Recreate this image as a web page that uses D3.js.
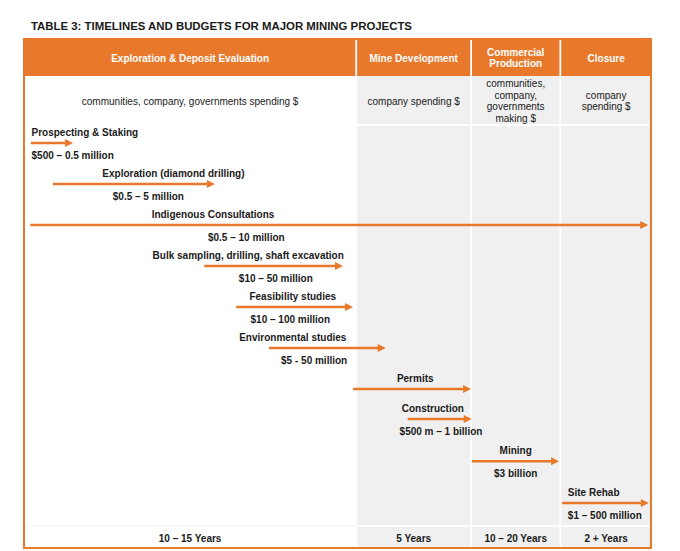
<!DOCTYPE html>
<html>
<head>
<meta charset="utf-8">
<script src="https://cdn.jsdelivr.net/npm/d3@7"></script>
<style>
  body { margin: 0; background: #fff; }
  text { font-family: "Liberation Sans", Arial, sans-serif; }
</style>
</head>
<body>
<div id="chart"></div>
<script>
// phases of a mine (columns), in timeline units 0..100
const phaseHeads = [['Exploration & Deposit Evaluation'], ['Mine Development'], ['Commercial', 'Production'], ['Closure']]
const phaseBounds = [0, 52.9, 71.2, 85.4, 100]
const spenders = [
  ['communities, company, governments spending $'],
  ['company spending $'],
  ['communities,', 'company,', 'governments', 'making $'],
  ['company', 'spending $']
]
const durations = ['10 – 15 Years', '5 Years', '10 – 20 Years', '2 + Years']

// activities along the timeline
const tasks = ['Prospecting & Staking', 'Exploration (diamond drilling)', 'Indigenous Consultations',
  'Bulk sampling, drilling, shaft excavation', 'Feasibility studies', 'Environmental studies',
  'Permits', 'Construction', 'Mining', 'Site Rehab']
const costs = ['$500 – 0.5 million', '$0.5 – 5 million', '$0.5 – 10 million', '$10 – 50 million',
  '$10 – 100 million', '$5 - 50 million', '', '$500 m – 1 billion', '$3 billion', '$1 – 500 million']
const taskStart = [1.1, 4.6, 1.0, 28.7, 33.8, 39.0, 52.4, 61.1, 71.3, 85.7]
const taskEnd = [7.8, 30.4, 99.4, 50.8, 52.4, 57.6, 71.2, 71.3, 85.2, 99.5]
const taskRow = [0, 1, 2, 3, 4, 5, 6, 6.73, 7.76, 8.78]
const labelAt = [1.2, 23.8, 30.1, 35.7, 42.8, 42.8, 62.3, 65.1, 78.3, 86.6]
const costAt = [1.2, 19.8, 35.4, 40.1, 42.4, 46.2, 0, 66.4, 78.3, 86.6]
const leftAligned = [true, false, false, false, false, false, false, false, false, true]

const W = 680, H = 551
const orange = '#E8792B'
const grey = '#F0F0F0'
const ink = '#1a1a1a'

const svg = d3.select('#chart').append('svg')
  .attr('width', W)
  .attr('height', H)

const x = d3.scaleLinear().domain([0, 100]).range([24, 652])
const y = d3.scaleLinear().domain([0, 9]).range([143, 512])

const tableTop = 39, headBottom = 76, rowBottom = 125, bodyBottom = 526, tableBottom = 548

// title
svg.append('text')
  .attr('x', 31)
  .attr('y', 26)
  .attr('dy', '0.35em')
  .style('font-size', '11.4px')
  .style('font-weight', 'bold')
  .style('fill', ink)
  .text('TABLE 3: TIMELINES AND BUDGETS FOR MAJOR MINING PROJECTS')

const cols = d3.range(phaseHeads.length)

// grey background for the later phases
svg.selectAll('.colBg').data(cols.slice(1)).enter().append('rect')
  .attr('class', 'colBg')
  .attr('x', i => x(phaseBounds[i]))
  .attr('y', headBottom)
  .attr('width', i => x(phaseBounds[i + 1]) - x(phaseBounds[i]))
  .attr('height', tableBottom - headBottom)
  .style('fill', grey)

// header band
svg.append('rect')
  .attr('x', x(0))
  .attr('y', tableTop)
  .attr('width', x(100) - x(0))
  .attr('height', headBottom - tableTop)
  .style('fill', orange)

// white dividers between columns
svg.selectAll('.vdiv').data(phaseBounds.slice(1, -1)).enter().append('line')
  .attr('class', 'vdiv')
  .attr('x1', d => x(d)).attr('x2', d => x(d))
  .attr('y1', tableTop).attr('y2', tableBottom)
  .attr('stroke', '#fff')
  .attr('stroke-width', 1.8)

// white row dividers
svg.selectAll('.hdiv').data([rowBottom, bodyBottom]).enter().append('line')
  .attr('class', 'hdiv')
  .attr('x1', x(phaseBounds[1])).attr('x2', x(100))
  .attr('y1', d => d).attr('y2', d => d)
  .attr('stroke', '#fff')
  .attr('stroke-width', 1.8)

svg.append('line')
  .attr('x1', x(0)).attr('x2', x(phaseBounds[1]))
  .attr('y1', bodyBottom).attr('y2', bodyBottom)
  .attr('stroke', '#f3f3f3')
  .attr('stroke-width', 1)

// outer border
svg.append('rect')
  .attr('x', x(0))
  .attr('y', tableTop)
  .attr('width', x(100) - x(0) - 1)
  .attr('height', tableBottom - tableTop)
  .style('fill', 'none')
  .attr('stroke', orange)
  .attr('stroke-width', 2)

let colMid = i => (x(phaseBounds[i]) + x(phaseBounds[i + 1])) / 2

// multi-line cell text helper
function cellText(lines, cx, cy, lh, opts) {
  lines.forEach((t, k) => {
    svg.append('text')
      .attr('x', cx)
      .attr('y', cy + (k - (lines.length - 1) / 2) * lh)
      .attr('dy', '0.35em')
      .attr('text-anchor', 'middle')
      .style('font-size', '10px')
      .style('font-weight', opts.bold ? 'bold' : 'normal')
      .style('fill', opts.color)
      .text(t)
  })
}

cols.forEach(i => {
  cellText(phaseHeads[i], colMid(i), 58, 11, { bold: true, color: '#fff' })
  cellText(spenders[i], colMid(i), 101, 11.7, { bold: false, color: ink })
  cellText([durations[i]], colMid(i), 538, 11, { bold: true, color: ink })
})

// arrows
svg.selectAll('.arrowLine').data(tasks).enter().append('line')
  .attr('class', 'arrowLine')
  .attr('x1', (d, i) => x(taskStart[i]))
  .attr('x2', (d, i) => x(taskEnd[i]) - 6)
  .attr('y1', (d, i) => y(taskRow[i]))
  .attr('y2', (d, i) => y(taskRow[i]))
  .attr('stroke', orange)
  .attr('stroke-width', 2.5)

svg.selectAll('.arrowHead').data(tasks).enter().append('path')
  .attr('class', 'arrowHead')
  .attr('d', (d, i) => {
    let tx = x(taskEnd[i]), ty = y(taskRow[i])
    return `M${tx},${ty}L${tx - 8},${ty - 4}L${tx - 8},${ty + 4}Z`
  })
  .style('fill', orange)

svg.selectAll('.taskLabel').data(tasks).enter().append('text')
  .attr('class', 'taskLabel')
  .attr('x', (d, i) => x(labelAt[i]))
  .attr('y', (d, i) => y(taskRow[i]) - 10.8)
  .attr('dy', '0.35em')
  .attr('text-anchor', (d, i) => leftAligned[i] ? 'start' : 'middle')
  .style('font-size', '10px')
  .style('font-weight', 'bold')
  .style('fill', ink)
  .text(d => d)

svg.selectAll('.costLabel').data(costs.filter(c => c !== '')).enter().append('text')
  .attr('class', 'costLabel')
  .each(function (d) {
    let i = costs.indexOf(d)
    d3.select(this)
      .attr('x', x(costAt[i]))
      .attr('y', y(taskRow[i]) + 12.3)
      .attr('text-anchor', leftAligned[i] ? 'start' : 'middle')
  })
  .attr('dy', '0.35em')
  .style('font-size', '10px')
  .style('font-weight', 'bold')
  .style('fill', ink)
  .text(d => d)
</script>
</body>
</html>
